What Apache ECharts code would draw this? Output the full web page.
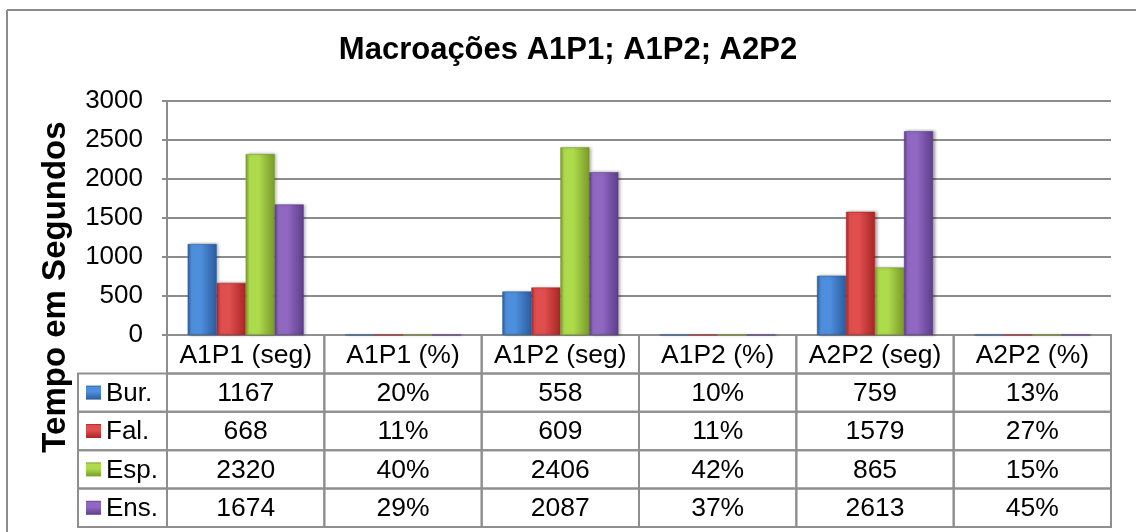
<!DOCTYPE html>
<html><head><meta charset="utf-8">
<script src="https://cdn.jsdelivr.net/npm/echarts@6/dist/echarts.min.js"></script>
<style>html,body{margin:0;padding:0;background:#fff}#c{width:1136px;height:532px}</style>
</head><body><div id="c"></div>
<script>
// ---- data ----
const title = 'Macroações A1P1; A1P2; A2P2';
const yName = 'Tempo em Segundos';
const categories = ['A1P1 (seg)', 'A1P1 (%)', 'A1P2 (seg)', 'A1P2 (%)', 'A2P2 (seg)', 'A2P2 (%)'];
const isPercent = [false, true, false, true, false, true];
const seriesNames = ['Bur.', 'Fal.', 'Esp.', 'Ens.'];
const bur = [1167, 0.20, 558, 0.10, 759, 0.13];
const fal = [668, 0.11, 609, 0.11, 1579, 0.27];
const esp = [2320, 0.40, 2406, 0.42, 865, 0.15];
const ens = [1674, 0.29, 2087, 0.37, 2613, 0.45];
const yMin = 0, yMax = 3000, yStep = 500;

// ---- styling ----
const FONT = '"Liberation Sans", Arial, sans-serif';
const palette = [
  ['#4d8fdc', '#2b5c9e'],
  ['#e04e4e', '#a82626'],
  ['#addb4c', '#7a9a2a'],
  ['#9068c2', '#5d3d8b']
];
function grad(i, vertical) {
  const [l, d] = palette[i];
  return new echarts.graphic.LinearGradient(0, 0, vertical ? 0 : 1, vertical ? 1 : 0, [
    {offset: 0, color: d}, {offset: 0.12, color: l}, {offset: 0.45, color: l}, {offset: 1, color: d}
  ]);
}
const allSeries = [bur, fal, esp, ens];
const fmt = (v, c) => isPercent[c] ? Math.round(v * 100) + '%' : String(v);

// table cells (positions come from the table grid's axes)
const legendColMin = -0.5657; // width of legend column in column units
const cellVals = [], cellInfo = [];
categories.forEach((c, i) => { cellVals.push([i, i + 1, 0]); cellInfo.push({kind: 'h', text: c}); });
seriesNames.forEach((n, s) => {
  cellVals.push([legendColMin, 0, s + 1]); cellInfo.push({kind: 'l', text: n, s});
  allSeries[s].forEach((v, c) => { cellVals.push([c, c + 1, s + 1]); cellInfo.push({kind: 'v', text: fmt(v, c)}); });
});

const chart = echarts.init(document.getElementById('c'), null, {renderer: 'canvas'});
const barSeries = seriesNames.map((n, i) => ({
  type: 'bar', name: n, data: allSeries[i], xAxisIndex: 0, yAxisIndex: 0,
  barWidth: 29, barGap: '0%',
  itemStyle: {color: grad(i), borderColor: palette[i][1], borderWidth: 0.5,
    shadowBlur: 3, shadowColor: 'rgba(0,0,0,0.35)', shadowOffsetX: 2, shadowOffsetY: 0}
}));

chart.setOption({
  animation: false,
  backgroundColor: '#fff',
  title: {text: title, left: 'center', top: 30,
    textStyle: {fontSize: 31, fontWeight: 'bold', fontFamily: FONT, color: '#000'}},
  grid: [
    {left: 167, right: 25, top: 101, bottom: 197, containLabel: false},
    {left: 78, right: 25, top: 335, bottom: 5, containLabel: false}
  ],
  xAxis: [
    {type: 'category', data: categories, gridIndex: 0,
      axisLine: {show: true, lineStyle: {color: '#8c8c8c', width: 2}},
      axisTick: {show: false}, axisLabel: {show: false}, splitLine: {show: false}},
    {type: 'value', gridIndex: 1, min: legendColMin, max: categories.length, show: false}
  ],
  yAxis: [
    {type: 'value', gridIndex: 0, min: yMin, max: yMax, interval: yStep,
      axisLine: {show: true, lineStyle: {color: '#8c8c8c', width: 2}},
      axisTick: {show: true, length: 5, lineStyle: {color: '#8c8c8c', width: 2}},
      axisLabel: {fontSize: 26, fontFamily: FONT, color: '#000', margin: 24, formatter: v => String(v)},
      splitLine: {show: true, lineStyle: {color: '#8c8c8c', width: 2}}},
    {type: 'value', gridIndex: 1, min: 0, max: seriesNames.length + 1, inverse: true, show: false}
  ],
  series: barSeries.concat([{
    type: 'custom', xAxisIndex: 1, yAxisIndex: 1, clip: false, silent: true,
    data: cellVals,
    renderItem(params, api) {
      const x0 = api.value(0), x1 = api.value(1), r = api.value(2);
      const p0 = api.coord([x0, r]), p1 = api.coord([x1, r + 1]);
      const w = p1[0] - p0[0], h = p1[1] - p0[1];
      const info = cellInfo[params.dataIndex];
      const ch = [{type: 'rect', shape: {x: p0[0], y: p0[1], width: w, height: h},
        style: {fill: 'rgba(0,0,0,0)', stroke: '#8f8f8f', lineWidth: 2}}];
      if (info.kind === 'l') {
        ch.push({type: 'rect', shape: {x: p0[0] + 8, y: p0[1] + h / 2 - 7, width: 15, height: 14},
          style: {fill: grad(info.s, true)}});
        ch.push({type: 'text', style: {text: info.text, x: p0[0] + 28, y: p0[1] + h / 2 + 1,
          align: 'left', verticalAlign: 'middle', fontSize: 26, fontFamily: FONT, fill: '#000'}});
      } else {
        ch.push({type: 'text', style: {text: info.text, x: p0[0] + w / 2, y: p0[1] + h / 2 + 1,
          align: 'center', verticalAlign: 'middle', fontSize: 26.5, fontFamily: FONT, fill: '#000'}});
      }
      return {type: 'group', children: ch};
    }
  }]),
  graphic: [
    {type: 'line', shape: {x1: 7, y1: 10, x2: 1136, y2: 10}, style: {stroke: '#8c8c8c', lineWidth: 2}},
    {type: 'line', shape: {x1: 7, y1: 10, x2: 7, y2: 532}, style: {stroke: '#8c8c8c', lineWidth: 2}},
    {type: 'text', x: 56, y: 287, rotation: Math.PI / 2,
      style: {text: yName, align: 'center', verticalAlign: 'middle', fontSize: 33, fontWeight: 'bold',
        fontFamily: FONT, fill: '#000'}}
  ]
});
</script></body></html>
